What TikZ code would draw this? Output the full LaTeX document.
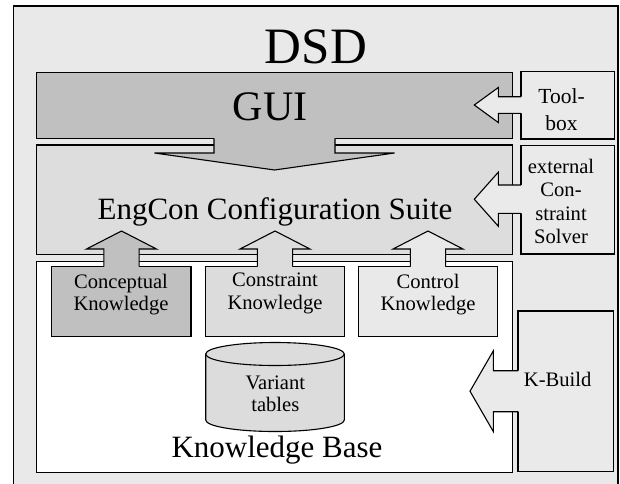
\documentclass[tikz,border=0pt]{standalone}
\usepackage{fontspec}
\setmainfont{Liberation Serif}
\definecolor{outergray}{HTML}{E9E9E9}
\definecolor{guigray}{HTML}{C0C0C0}
\definecolor{engray}{HTML}{DDDDDD}
\definecolor{sidegray}{HTML}{EAEAEA}
\definecolor{cgray}{HTML}{C0C0C0}
\definecolor{kgray}{HTML}{DCDCDC}
\definecolor{lgray}{HTML}{E9E9E9}
\newcommand\fsz[2]{\fontsize{#1}{#2}\selectfont}
% left-pointing block arrow: #1 colour, #2 box edge x, #3 head back x, #4 tip x, #5 centre y, #6 shaft half, #7 head half
\newcommand\blockleft[7]{%
  \fill[#1] (#2+2.5,#5-#6) -- (#3,#5-#6) -- (#3,#5-#7) -- (#4,#5) -- (#3,#5+#7) -- (#3,#5+#6) -- (#2+2.5,#5+#6) -- cycle;
  \draw[arrline] (#2,#5-#6) -- (#3,#5-#6) -- (#3,#5-#7) -- (#4,#5) -- (#3,#5+#7) -- (#3,#5+#6) -- (#2,#5+#6);}
% vertical block arrow: #1 colour, #2 centre x, #3 box edge y, #4 head base y, #5 tip y, #6 shaft half, #7 head half, #8 overlap
\newcommand\blockvert[8]{%
  \fill[#1] (#2-#6,#3+#8) -- (#2-#6,#4) -- (#2-#7,#4) -- (#2,#5) -- (#2+#7,#4) -- (#2+#6,#4) -- (#2+#6,#3+#8) -- cycle;
  \draw[arrline] (#2-#6,#3) -- (#2-#6,#4) -- (#2-#7,#4) -- (#2,#5) -- (#2+#7,#4) -- (#2+#6,#4) -- (#2+#6,#3);}
\begin{document}
\begin{tikzpicture}[x=1pt,y=-1pt,
  blk/.style={draw, line width=1.1pt, inner sep=0pt, outer sep=0pt, anchor=north west},
  arrline/.style={line width=1.1pt, line join=miter},
  small/.style={font=\fsz{20.6}{22.5}, align=center, inner sep=0pt},
  big/.style={inner sep=0pt, anchor=base}]
\useasboundingbox (0,0) rectangle (620,483);
\clip (0,0) rectangle (620,483);
\fill[white] (0,0) rectangle (620,483);
% boxes
\node[blk, fill=outergray, minimum width=604.7pt, minimum height=500pt] (frame) at (13.3,6) {};
\node[blk, fill=guigray, minimum width=476.2pt, minimum height=65.8pt] (gui) at (36.5,72.5) {};
\node[blk, fill=sidegray, minimum width=93.3pt, minimum height=67.3pt] (toolbox) at (521,71.7) {};
\node[blk, fill=engray, minimum width=476.2pt, minimum height=109.3pt] (engcon) at (36.5,145) {};
\node[blk, fill=sidegray, minimum width=93.3pt, minimum height=108.5pt] (ext) at (521,145.5) {};
\node[blk, fill=white, minimum width=476pt, minimum height=211pt] (kb) at (36.7,261.7) {};
\node[blk, fill=sidegray, minimum width=95.5pt, minimum height=160.7pt] (kbuild) at (518,311) {};
\node[blk, fill=cgray, minimum width=139.3pt, minimum height=70pt] (concept) at (51.7,266.7) {};
\node[blk, fill=kgray, minimum width=138.6pt, minimum height=70pt] (constr) at (205.7,266.7) {};
\node[blk, fill=lgray, minimum width=138.8pt, minimum height=70pt] (control) at (358.5,266.7) {};
% cylinder
\filldraw[fill=kgray, line width=1.1pt] (205.7,354) -- (205.7,420) arc[start angle=180, end angle=0, x radius=69.3, y radius=11.5] -- (344.3,354);
\filldraw[fill=kgray, line width=1.1pt] (275,354) ellipse [x radius=69.3, y radius=11.5];
% block arrows
\blockvert{guigray}{274.5}{138.3}{153}{170}{60.5}{120}{-2.5}
\blockleft{sidegray}{521}{498.3}{474.3}{105}{8.3}{17.5}
\blockleft{sidegray}{521}{498.3}{474.3}{199.2}{14.2}{27}
\blockleft{sidegray}{518}{493.3}{470}{391.2}{20.5}{40.3}
\blockvert{cgray}{121.5}{266.7}{249}{231}{17.6}{35}{2.5}
\blockvert{kgray}{275}{266.7}{249}{231}{17.6}{35}{2.5}
\blockvert{lgray}{428}{266.7}{249}{231}{17.6}{35}{2.5}
% texts
\node[big, font=\fsz{51}{51}] (dsd) at (316,63.3) {DSD};
\node[big, font=\fsz{42}{42}] (guit) at (270,120) {GUI};
\node[big, font=\fsz{31}{31}] (engt) at (275,219) {EngCon Configuration Suite};
\node[big, font=\fsz{31}{31}] (kbt) at (277,457) {Knowledge Base};
\node[small, font=\fsz{21.5}{26.7}] (toolt) at (561.5,109.6) {Tool-\\box};
\node[small, font=\fsz{20.6}{23.3}] (extt) at (561,201.3) {external\\Con-\\straint\\Solver};
\node[small, anchor=base] (kbuildt) at (557.7,386.7) {K-Build};
\node[small] (conceptt) at (121,294.7) {Conceptual\\Knowledge};
\node[small] (constrt) at (275,293.5) {Constraint\\Knowledge};
\node[small] (controlt) at (428,294.7) {Control\\Knowledge};
\node[small, font=\fsz{20.6}{21.7}] (vart) at (275.3,393.8) {Variant\\tables};
\end{tikzpicture}
\end{document}
